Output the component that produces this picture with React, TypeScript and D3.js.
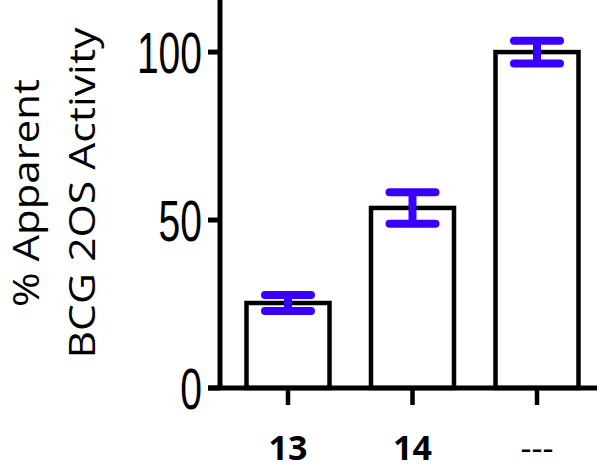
import React from "react";
import * as d3 from "d3";

const categories = ["13", "14", "---"];
const means = [25.3, 53.6, 100];
const errors = [2.4, 4.7, 3.4];
const yTicks = [0, 50, 100];

const width = 600;
const height = 471;

export default function App() {
  const x = d3.scalePoint<string>().domain(categories).range([288, 537]);
  const y = d3.scaleLinear().domain([0, 115.5]).range([388, 0]);
  const barW = 83;
  const capW = 46;
  const blue = "#3a00ff";
  const axisX = 220;

  return (
    <svg
      width={width}
      height={height}
      style={{ position: "absolute", left: 0, top: 0, background: "#fff" }}
    >
      {/* bars */}
      {categories.map((c, i) => (
        <rect
          key={c}
          x={x(c)! - barW / 2}
          y={y(means[i])}
          width={barW}
          height={y(0) - y(means[i])}
          fill="#fff"
          stroke="#000"
          strokeWidth={4.5}
        />
      ))}

      {/* error bars */}
      {categories.map((c, i) => {
        const cx = x(c)!;
        const hi = y(means[i] + errors[i]);
        const lo = y(means[i] - errors[i]);
        return (
          <g key={c} stroke={blue} strokeWidth={8} strokeLinecap="round">
            <line x1={cx} x2={cx} y1={hi} y2={lo} strokeLinecap="butt" />
            <line x1={cx - capW / 2} x2={cx + capW / 2} y1={hi} y2={hi} />
            <line x1={cx - capW / 2} x2={cx + capW / 2} y1={lo} y2={lo} />
          </g>
        );
      })}

      {/* y axis */}
      <line x1={axisX} x2={axisX} y1={0} y2={y(0) + 2} stroke="#000" strokeWidth={5} />
      {yTicks.map((t) => (
        <g key={t}>
          <line x1={208} x2={axisX} y1={y(t)} y2={y(t)} stroke="#000" strokeWidth={5} />
          <text
            x={202}
            y={y(t) + 21}
            textAnchor="end"
            fontFamily="Liberation Sans, Arial, sans-serif"
            fontSize={58}
            textLength={String(t).length * 21.7}
            lengthAdjust="spacingAndGlyphs"
          >
            {t}
          </text>
        </g>
      ))}

      {/* x axis */}
      <line x1={208} x2={597} y1={y(0)} y2={y(0)} stroke="#000" strokeWidth={5} />
      {categories.map((c) => (
        <g key={c}>
          <line x1={x(c)!} x2={x(c)!} y1={y(0)} y2={y(0) + 17} stroke="#000" strokeWidth={4.5} />
          <text
            x={x(c)!}
            y={460}
            textAnchor="middle"
            fontFamily="Open Sans, Noto Sans, sans-serif"
            fontWeight={c === "---" ? "normal" : "bold"}
            fontSize={34}
          >
            {c}
          </text>
        </g>
      ))}

      {/* y label */}
      <g transform="translate(0,193) rotate(-90)" fontFamily="Open Sans, Noto Sans, sans-serif" fontSize={36}>
        <text x={0} y={39} textAnchor="middle" textLength={228} lengthAdjust="spacingAndGlyphs">
          % Apparent
        </text>
        <text x={0} y={95} textAnchor="middle" textLength={331} lengthAdjust="spacingAndGlyphs">
          BCG 2OS Activity
        </text>
      </g>
    </svg>
  );
}
